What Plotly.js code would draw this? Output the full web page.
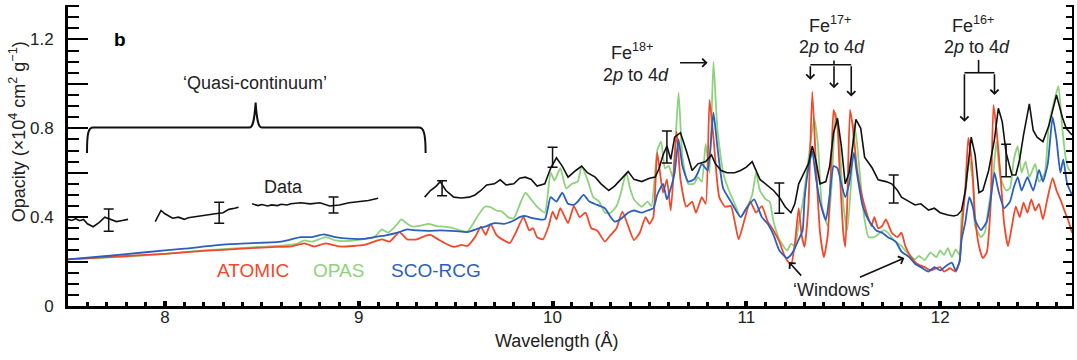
<!DOCTYPE html>
<html>
<head>
<meta charset="utf-8">
<script src="https://cdn.plot.ly/plotly-3.0.1.min.js"></script>
<style>html,body{margin:0;padding:0;background:#fff;}</style>
</head>
<body>
<div id="chart" style="width:1077px;height:360px;"></div>
<script>
// ATOMIC model (red)
const atomicX = [7.5,7.8,8.0,8.2,8.4,8.55,8.65,8.72,8.77,8.83,8.9,8.97,9.03,9.08,9.12,9.16,9.21,9.25,9.3,9.34,9.37,9.41,9.44,9.49,9.53,9.56,9.6,9.63,9.655,9.68,9.71,9.74,9.78,9.81,9.85,9.88,9.9,9.92,9.95,9.98,10.0,10.02,10.04,10.08,10.11,10.14,10.17,10.2,10.23,10.27,10.3,10.33,10.36,10.39,10.42,10.45,10.48,10.5,10.52,10.54,10.57,10.59,10.61,10.64,10.66,10.69,10.72,10.74,10.77,10.79,10.81,10.83,10.86,10.89,10.92,10.94,10.96,10.99,11.02,11.05,11.08,11.11,11.14,11.17,11.2,11.23,11.25,11.27,11.285,11.3,11.32,11.34,11.36,11.38,11.4,11.42,11.44,11.45,11.47,11.48,11.5,11.51,11.52,11.535,11.55,11.57,11.59,11.62,11.645,11.66,11.68,11.7,11.72,11.75,11.78,11.8,11.82,11.85,11.88,11.92,11.95,11.98,12.0,12.02,12.05,12.08,12.1,12.11,12.13,12.145,12.165,12.18,12.2,12.22,12.24,12.26,12.275,12.29,12.31,12.33,12.35,12.37,12.39,12.41,12.43,12.45,12.47,12.49,12.51,12.53,12.55,12.58,12.6,12.62,12.645,12.66,12.68];
const atomicY = [0.21,0.225,0.235,0.248,0.258,0.265,0.268,0.282,0.268,0.282,0.268,0.27,0.275,0.29,0.3,0.29,0.333,0.3,0.3,0.315,0.32,0.3,0.285,0.266,0.275,0.27,0.31,0.357,0.32,0.37,0.32,0.3,0.284,0.33,0.4,0.34,0.35,0.31,0.3,0.36,0.425,0.39,0.44,0.373,0.45,0.4,0.42,0.35,0.34,0.29,0.32,0.35,0.425,0.36,0.297,0.33,0.4,0.37,0.4,0.69,0.51,0.57,0.43,0.785,0.57,0.447,0.47,0.42,0.49,0.46,0.928,0.76,0.49,0.447,0.45,0.38,0.3,0.387,0.47,0.42,0.45,0.38,0.34,0.29,0.22,0.185,0.28,0.44,0.32,0.266,0.45,0.965,0.62,0.33,0.22,0.32,0.7,0.883,0.81,0.63,0.33,0.266,0.45,0.883,0.8,0.62,0.52,0.42,0.36,0.4,0.35,0.36,0.39,0.33,0.31,0.33,0.27,0.22,0.19,0.175,0.16,0.17,0.175,0.155,0.17,0.155,0.2,0.33,0.535,0.757,0.63,0.4,0.27,0.216,0.24,0.45,0.905,0.8,0.6,0.37,0.27,0.36,0.447,0.4,0.465,0.42,0.48,0.43,0.46,0.39,0.47,0.575,0.52,0.48,0.42,0.387,0.33];

// OPAS model (green)
const opasX = [7.5,7.8,8.0,8.2,8.4,8.6,8.68,8.72,8.76,8.83,8.88,8.95,9.02,9.08,9.12,9.15,9.19,9.22,9.25,9.28,9.32,9.36,9.4,9.44,9.49,9.53,9.56,9.59,9.61,9.65,9.68,9.71,9.74,9.77,9.8,9.84,9.86,9.88,9.92,9.96,9.99,10.01,10.04,10.07,10.1,10.13,10.15,10.18,10.21,10.24,10.27,10.3,10.33,10.35,10.38,10.4,10.42,10.46,10.49,10.51,10.54,10.56,10.58,10.6,10.62,10.65,10.67,10.7,10.73,10.75,10.77,10.79,10.81,10.83,10.85,10.88,10.91,10.94,10.97,11.0,11.03,11.05,11.07,11.1,11.12,11.14,11.17,11.21,11.23,11.25,11.27,11.29,11.32,11.35,11.37,11.39,11.42,11.44,11.46,11.48,11.5,11.52,11.54,11.555,11.57,11.59,11.61,11.63,11.66,11.69,11.71,11.73,11.76,11.8,11.83,11.87,11.89,11.92,11.95,11.98,12.0,12.02,12.04,12.06,12.08,12.1,12.11,12.13,12.15,12.17,12.18,12.21,12.23,12.25,12.27,12.29,12.31,12.34,12.36,12.38,12.4,12.42,12.44,12.46,12.49,12.51,12.54,12.56,12.59,12.61,12.63,12.645,12.66,12.68];
const opasY = [0.21,0.222,0.235,0.25,0.262,0.272,0.28,0.295,0.29,0.31,0.295,0.293,0.3,0.31,0.345,0.33,0.36,0.39,0.37,0.357,0.362,0.37,0.36,0.357,0.35,0.338,0.335,0.37,0.4,0.447,0.445,0.43,0.425,0.4,0.395,0.477,0.51,0.49,0.447,0.42,0.6,0.565,0.62,0.53,0.55,0.56,0.63,0.57,0.49,0.47,0.42,0.42,0.45,0.5,0.6,0.53,0.48,0.447,0.47,0.45,0.7,0.74,0.62,0.63,0.58,0.96,0.67,0.55,0.55,0.58,0.56,0.73,0.6,1.1,0.8,0.6,0.52,0.46,0.4,0.44,0.5,0.6,0.52,0.48,0.47,0.38,0.3,0.25,0.28,0.27,0.373,0.46,0.66,0.845,0.72,0.447,0.36,0.55,0.87,0.74,0.46,0.342,0.55,0.82,0.74,0.55,0.387,0.31,0.31,0.33,0.342,0.33,0.297,0.27,0.24,0.21,0.225,0.207,0.24,0.22,0.25,0.23,0.26,0.22,0.255,0.23,0.4,0.51,0.66,0.55,0.36,0.31,0.33,0.45,0.55,0.74,0.58,0.52,0.53,0.66,0.72,0.6,0.65,0.58,0.64,0.56,0.6,0.81,0.93,0.99,0.8,0.68,0.62,0.6];

// SCO-RCG model (blue)
const scoX = [7.5,7.7,7.9,8.1,8.3,8.45,8.6,8.7,8.76,8.82,8.88,8.95,9.02,9.08,9.14,9.2,9.25,9.3,9.36,9.42,9.5,9.56,9.62,9.66,9.7,9.75,9.8,9.83,9.86,9.9,9.96,9.99,10.02,10.05,10.08,10.11,10.13,10.16,10.19,10.23,10.27,10.3,10.32,10.35,10.39,10.42,10.46,10.49,10.52,10.54,10.57,10.59,10.61,10.63,10.65,10.67,10.7,10.73,10.75,10.77,10.8,10.83,10.85,10.88,10.92,10.97,11.0,11.04,11.08,11.11,11.14,11.17,11.21,11.23,11.25,11.27,11.29,11.3,11.32,11.34,11.36,11.38,11.41,11.43,11.45,11.47,11.49,11.51,11.53,11.555,11.57,11.6,11.63,11.67,11.7,11.73,11.77,11.8,11.84,11.87,11.9,11.94,11.97,12.0,12.03,12.06,12.08,12.1,12.11,12.13,12.15,12.17,12.18,12.21,12.24,12.26,12.28,12.3,12.33,12.36,12.38,12.4,12.42,12.45,12.48,12.51,12.53,12.555,12.58,12.6,12.62,12.635,12.655,12.68];
const scoY = [0.21,0.225,0.242,0.258,0.276,0.283,0.29,0.31,0.31,0.322,0.31,0.303,0.302,0.31,0.318,0.33,0.345,0.34,0.338,0.34,0.337,0.333,0.35,0.36,0.373,0.37,0.385,0.4,0.405,0.395,0.39,0.49,0.47,0.51,0.46,0.455,0.47,0.5,0.47,0.455,0.44,0.4,0.38,0.39,0.42,0.43,0.42,0.43,0.44,0.5,0.55,0.48,0.53,0.6,0.75,0.63,0.56,0.57,0.6,0.64,0.61,0.87,0.72,0.53,0.47,0.4,0.44,0.48,0.4,0.37,0.32,0.25,0.216,0.23,0.26,0.3,0.34,0.48,0.62,0.695,0.57,0.47,0.387,0.5,0.63,0.62,0.55,0.49,0.55,0.69,0.6,0.45,0.387,0.34,0.33,0.31,0.29,0.245,0.22,0.19,0.175,0.155,0.175,0.16,0.18,0.195,0.16,0.2,0.297,0.38,0.49,0.44,0.387,0.342,0.38,0.477,0.6,0.52,0.44,0.47,0.535,0.58,0.52,0.58,0.52,0.613,0.56,0.64,0.85,0.75,0.6,0.66,0.55,0.5];

// Measured data (black), null marks gaps between measured segments
const dataX = [7.5,7.52,7.54,7.56,7.58,7.6,7.63,7.66,7.69,7.72,7.75,7.78,7.81,null,7.95,7.98,8.0,8.02,8.04,8.07,8.1,8.12,8.14,8.18,8.22,8.26,8.3,8.33,8.36,8.38,null,8.45,8.48,8.5,8.53,8.55,8.58,8.6,8.63,8.65,8.7,8.75,8.8,8.85,8.9,8.95,9.0,9.05,9.1,null,9.34,9.37,9.4,9.42,9.45,9.49,9.53,9.57,9.6,9.63,9.66,9.7,9.73,9.76,9.8,9.83,9.86,9.89,9.92,9.96,9.99,10.02,10.05,10.08,10.12,10.15,10.18,10.22,10.25,10.29,10.32,10.36,10.39,10.42,10.46,10.5,10.53,10.55,10.57,10.59,10.61,10.63,10.66,10.69,10.72,10.75,10.79,10.82,10.84,10.87,10.9,10.94,10.97,11.0,11.03,11.07,11.1,11.14,11.17,11.2,11.23,11.25,11.27,11.3,11.32,11.34,11.36,11.38,11.41,11.43,11.45,11.47,11.49,11.51,11.53,11.55,11.565,11.59,11.61,11.65,11.68,11.72,11.75,11.78,11.8,11.84,11.87,11.9,11.94,11.97,12.0,12.04,12.07,12.09,12.11,12.13,12.15,12.16,12.18,12.2,12.22,12.25,12.28,12.3,12.32,12.34,12.37,12.39,12.41,12.43,12.46,12.48,12.5,12.53,12.56,12.6,12.63,12.65,12.68];
const dataY = [0.39,0.385,0.393,0.384,0.39,0.37,0.357,0.375,0.4,0.39,0.38,0.385,0.39,null,0.38,0.43,0.415,0.405,0.395,0.4,0.39,0.397,0.4,0.405,0.41,0.415,0.42,0.435,0.44,0.445,null,0.46,0.452,0.457,0.45,0.455,0.452,0.458,0.455,0.46,0.465,0.46,0.465,0.45,0.455,0.465,0.47,0.475,0.485,null,0.49,0.52,0.54,0.56,0.52,0.49,0.486,0.49,0.5,0.52,0.545,0.55,0.568,0.545,0.55,0.575,0.58,0.57,0.54,0.55,0.62,0.667,0.63,0.58,0.61,0.63,0.6,0.58,0.55,0.52,0.54,0.58,0.605,0.57,0.56,0.575,0.58,0.62,0.68,0.72,0.66,0.76,0.78,0.7,0.61,0.64,0.65,0.68,0.64,0.61,0.6,0.6,0.61,0.625,0.65,0.57,0.55,0.52,0.49,0.447,0.42,0.46,0.55,0.6,0.64,0.72,0.65,0.55,0.56,0.63,0.78,0.845,0.72,0.55,0.6,0.73,0.84,0.8,0.67,0.62,0.568,0.56,0.55,0.52,0.49,0.47,0.455,0.46,0.432,0.44,0.42,0.41,0.405,0.41,0.43,0.52,0.7,0.76,0.68,0.51,0.52,0.61,0.75,0.89,0.83,0.69,0.59,0.59,0.66,0.77,0.91,0.79,0.76,0.74,0.81,0.95,0.85,0.8,0.77];

// Error bars on the measured data
const errX = [7.71,8.28,8.87,9.43,10.0,10.59,11.17,11.76,12.34];
const errY = [0.387,0.42,0.455,0.53,0.67,0.716,0.486,0.527,0.655];
const errSize = [0.05,0.047,0.036,0.034,0.045,0.072,0.068,0.063,0.073];

// Axis ticks
const xTickVals = [8,9,10,11,12];
const xTickText = ['8','9','10','11','12'];
const yTickVals = [0,0.2,0.4,0.6,0.8,1.0,1.2];
const yTickText = ['0','','0.4','','0.8','','1.2'];

const FONT = 'Liberation Sans, Arial, Helvetica, sans-serif';
const TXT = '#222';

const traces = [
  {x: opasX, y: opasY, mode: 'lines', line: {color: '#8ed27b', width: 1.8, shape: 'spline', smoothing: 0.5}, name: 'OPAS', hoverinfo: 'skip'},
  {x: atomicX, y: atomicY, mode: 'lines', line: {color: '#f2492b', width: 1.8, shape: 'spline', smoothing: 0.5}, name: 'ATOMIC', hoverinfo: 'skip'},
  {x: scoX, y: scoY, mode: 'lines', line: {color: '#2b5fbf', width: 1.8, shape: 'spline', smoothing: 0.5}, name: 'SCO-RCG', hoverinfo: 'skip'},
  {x: dataX, y: dataY, mode: 'lines', connectgaps: false, line: {color: '#111', width: 1.6}, name: 'Data', hoverinfo: 'skip'},
  {x: errX, y: errY, mode: 'markers', marker: {size: 1, color: '#111'}, hoverinfo: 'skip',
   error_y: {type: 'data', array: errSize, visible: true, color: '#111', thickness: 1.5, width: 5}},
  {x: [7.5], y: [0], yaxis: 'y2', mode: 'markers', marker: {size: 0, opacity: 0}, hoverinfo: 'skip', showlegend: false}
];

function arrow(x, y, ax, ay) {
  return {x: x, y: y, ax: ax, ay: ay, xref: 'x', yref: 'y', axref: 'x', ayref: 'y',
    text: '', showarrow: true, arrowhead: 4, arrowsize: 1, arrowwidth: 1.6, arrowcolor: '#111', standoff: 0};
}
function label(x, y, text, opts) {
  return Object.assign({x: x, y: y, xref: 'x', yref: 'y', text: text, showarrow: false,
    xanchor: 'center', yanchor: 'middle', font: {family: FONT, size: 18, color: TXT}}, opts || {});
}

const annotations = [
  label(7.77, 1.198, '<b>b</b>', {font: {family: FONT, size: 19, color: '#000'}}),
  label(8.466, 1.005, '\u2018Quasi-continuum\u2019'),
  label(8.611, 0.536, 'Data'),
  label(8.456, 0.162, 'ATOMIC', {font: {family: FONT, size: 19, color: '#f2492b'}}),
  label(8.895, 0.162, 'OPAS', {font: {family: FONT, size: 19, color: '#8ed27b'}}),
  label(9.397, 0.162, 'SCO-RCG', {font: {family: FONT, size: 19, color: '#2b5fbf'}}),
  label(10.41, 1.144, 'Fe<sup>18+</sup>'),
  label(10.43, 1.04, '2<i>p</i> to 4<i>d</i>'),
  label(11.43, 1.266, 'Fe<sup>17+</sup>'),
  label(11.44, 1.167, '2<i>p</i> to 4<i>d</i>'),
  label(12.17, 1.266, 'Fe<sup>16+</sup>'),
  label(12.19, 1.167, '2<i>p</i> to 4<i>d</i>'),
  label(11.45, 0.072, '\u2018Windows\u2019'),
  arrow(10.80, 1.095, 10.65, 1.095),
  arrow(11.33, 1.018, 11.33, 1.086),
  arrow(11.452, 0.98, 11.452, 1.086),
  arrow(11.541, 0.943, 11.541, 1.086),
  arrow(12.125, 0.829, 12.125, 1.05),
  arrow(12.28, 0.95, 12.28, 1.05),
  arrow(11.22, 0.198, 11.29, 0.13),
  arrow(11.815, 0.216, 11.578, 0.126),
  // axis titles
  {x: -0.0505, y: 0.578, xref: 'paper', yref: 'paper', textangle: -90, showarrow: false,
   text: 'Opacity (\u00d710<sup>4</sup> cm<sup>2</sup> g<sup>\u22121</sup>)', xanchor: 'center', yanchor: 'middle',
   font: {family: FONT, size: 18, color: TXT}},
  {x: 10.02, y: -0.116, xref: 'x', yref: 'paper', showarrow: false, text: 'Wavelength (\u00c5)',
   xanchor: 'center', yanchor: 'middle', font: {family: FONT, size: 18, color: TXT}}
];

const LC = '#111';
const shapes = [
  {type: 'path', xref: 'x', yref: 'y', line: {color: LC, width: 2},
   path: 'M 7.598,0.689 C 7.598,0.78 7.605,0.803 7.63,0.803 L 8.435,0.803 C 8.455,0.803 8.462,0.84 8.468,0.916 C 8.474,0.84 8.481,0.803 8.50,0.803 L 9.31,0.803 C 9.335,0.803 9.345,0.78 9.345,0.689'},
  {type: 'line', xref: 'x', yref: 'y', x0: 11.33, x1: 11.541, y0: 1.086, y1: 1.086, line: {color: LC, width: 1.6}},
  {type: 'line', xref: 'x', yref: 'y', x0: 11.452, x1: 11.452, y0: 1.086, y1: 1.105, line: {color: LC, width: 1.6}},
  {type: 'line', xref: 'x', yref: 'y', x0: 12.125, x1: 12.28, y0: 1.05, y1: 1.05, line: {color: LC, width: 1.6}},
  {type: 'line', xref: 'x', yref: 'y', x0: 12.198, x1: 12.198, y0: 1.05, y1: 1.108, line: {color: LC, width: 1.6}}
];

const layout = {
  width: 1077, height: 360,
  margin: {l: 68, r: 5, t: 5, b: 54, pad: 0},
  paper_bgcolor: '#fff', plot_bgcolor: '#fff',
  showlegend: false,
  font: {family: FONT, size: 17, color: TXT},
  xaxis: {
    range: [7.5, 12.68], showgrid: false, zeroline: false,
    showline: true, linecolor: '#000', linewidth: 3, mirror: false,
    ticks: 'inside', ticklen: 5, tickwidth: 4, tickcolor: '#000',
    tickvals: xTickVals, ticktext: xTickText, ticklabelstandoff: -6,
    tickfont: {family: FONT, size: 17, color: TXT},
    minor: {tick0: 0, dtick: 0.1, ticks: 'inside', ticklen: 4, tickwidth: 3, tickcolor: '#000', showgrid: false}
  },
  yaxis: {
    range: [0, 1.355], showgrid: false, zeroline: false,
    showline: true, linecolor: '#000', linewidth: 3,
    ticks: 'inside', ticklen: 20, tickwidth: 2, tickcolor: '#000',
    tickvals: yTickVals, ticktext: yTickText, ticklabelstandoff: 8,
    tickfont: {family: FONT, size: 17, color: TXT},
    minor: {tick0: 0, dtick: 0.05, ticks: 'inside', ticklen: 11, tickwidth: 2, tickcolor: '#000', showgrid: false}
  },
  yaxis2: {
    overlaying: 'y', side: 'right', range: [0, 1.355], matches: 'y',
    showgrid: false, zeroline: false, showline: true, linecolor: '#000', linewidth: 2,
    ticks: 'inside', ticklen: 9, tickwidth: 2, tickcolor: '#000', tickvals: yTickVals, showticklabels: false,
    minor: {tick0: 0, dtick: 0.05, ticks: 'inside', ticklen: 6, tickwidth: 2, tickcolor: '#000', showgrid: false}
  },
  annotations: annotations,
  shapes: shapes
};

Plotly.newPlot('chart', traces, layout, {staticPlot: true, displayModeBar: false});
</script>
</body>
</html>
